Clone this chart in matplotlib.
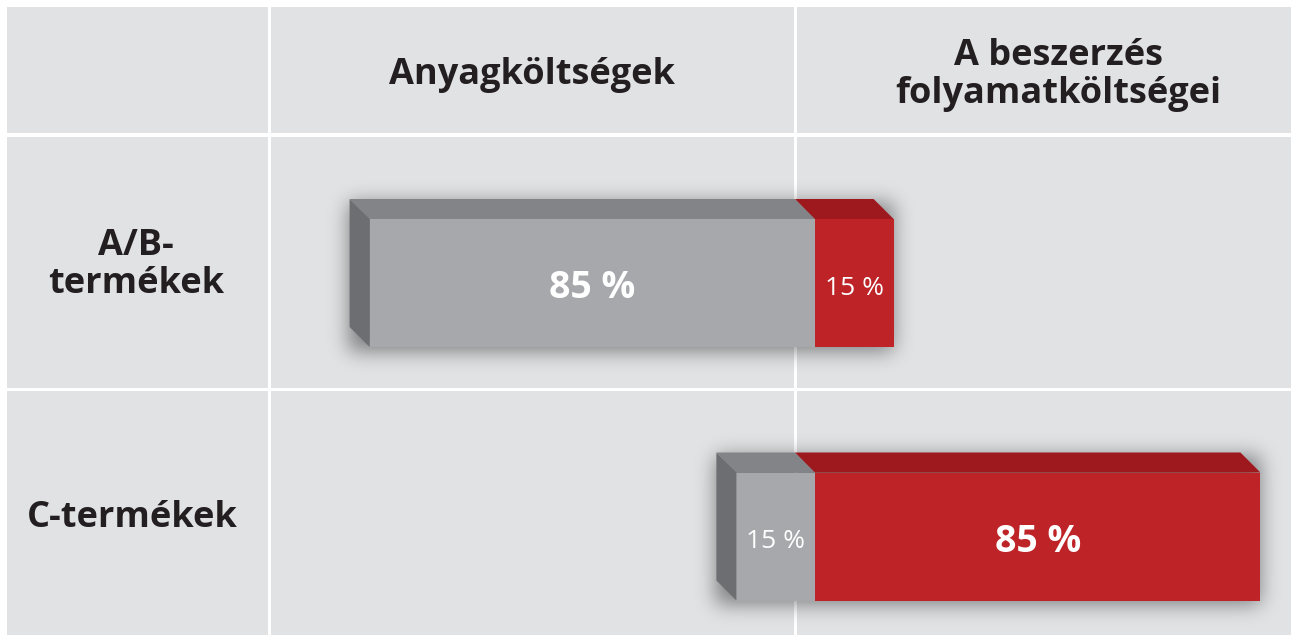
import numpy as np
import matplotlib.pyplot as plt
from matplotlib.patches import Rectangle, Polygon

plt.rcParams['font.family'] = ['Open Sans', 'DejaVu Sans']

# data
columns = ["Anyagköltségek", "A beszerzés\nfolyamatköltségei"]
products = ["A/B-\ntermékek", "C-termékek"]
material = [85, 15]   # anyagköltség, %
process = [15, 85]    # beszerzési folyamatköltség, %

W, H = 1291, 635
fig = plt.figure(figsize=(W / 100, H / 100), dpi=100, facecolor='white')

# table background (pixel coords)
bg = fig.add_axes([0, 0, 1, 1])
bg.set_xlim(0, W)
bg.set_ylim(H, 0)
bg.axis('off')
col_edges = [(7, 268), (271, 794), (797, W)]
row_edges = [(7, 133), (137, 388), (391, H)]
for x0, x1 in col_edges:
    for y0, y1 in row_edges:
        bg.add_patch(Rectangle((x0, y0), x1 - x0, y1 - y0, color='#e1e2e4', lw=0))

txt = '#231f20'
bg.text(532, 75, columns[0], ha='center', va='center', fontsize=26,
        fontweight='bold', color=txt)
bg.text(1058, 75, columns[1], ha='center', va='center', fontsize=26,
        fontweight='bold', color=txt, linespacing=1.1)
bg.text(136, 265, products[0], ha='center', va='center', fontsize=26,
        fontweight='bold', color=txt, linespacing=1.1)
bg.text(132, 518, products[1], ha='center', va='center', fontsize=26,
        fontweight='bold', color=txt)

# bars axes: x in percent, 0 = split between the two cost types
ax = fig.add_axes([0, 0, 1, 1], zorder=2)
ax.patch.set_alpha(0)
ax.axis('off')
ppx = 5.24        # pixels per percent
split = 815
row_px = [283, 536.5]
rs = row_px[1] - row_px[0]
ax.set_xlim(-split / ppx, (W - split) / ppx)
ax.set_ylim((H - row_px[0]) / rs, -row_px[0] / rs)

h = 128 / rs
dx = 20 / ppx
dy = 20 / rs

gray_front, gray_top, gray_side = '#a7a8ab', '#838488', '#6d6e72'
red_front, red_top = '#be2328', '#9e191e'

# soft shadow
fig.canvas.draw()
mask = np.zeros((H, W))
for i in range(len(products)):
    yt, yb = i - h / 2, i + h / 2
    (px0, py0) = ax.transData.transform((-material[i] - dx, yt - dy))
    (px1, py1) = ax.transData.transform((process[i], yb))
    c0, c1 = int(px0), int(px1)
    r0, r1 = int(H - py0), int(H - py1)
    mask[r0:r1, c0:c1] = 1
sig = 10
k = np.arange(-3 * sig, 3 * sig + 1)
kern = np.exp(-k ** 2 / (2 * sig ** 2))
kern /= kern.sum()
blur = np.apply_along_axis(lambda r: np.convolve(r, kern, mode='same'), 1, mask)
blur = np.apply_along_axis(lambda c: np.convolve(c, kern, mode='same'), 0, blur)
blur = np.roll(blur, 4, axis=0)
rgba = np.zeros((H, W, 4))
rgba[..., 3] = blur * 0.45
bg.imshow(rgba, extent=(0, W, H, 0), zorder=3, interpolation='bilinear')

for i in range(len(products)):
    m, p = material[i], process[i]
    yt, yb = i - h / 2, i + h / 2
    # front faces
    ax.add_patch(Rectangle((-m, yt), m, h, color=gray_front, lw=0))
    ax.add_patch(Rectangle((0, yt), p, h, color=red_front, lw=0))
    # top faces
    ax.add_patch(Polygon([(-m, yt), (0, yt), (-dx, yt - dy), (-m - dx, yt - dy)],
                         closed=True, color=gray_top, lw=0))
    ax.add_patch(Polygon([(0, yt), (p, yt), (p - dx, yt - dy), (-dx, yt - dy)],
                         closed=True, color=red_top, lw=0))
    # left side
    ax.add_patch(Polygon([(-m, yt), (-m - dx, yt - dy), (-m - dx, yb - dy), (-m, yb)],
                         closed=True, color=gray_side, lw=0))
    # labels
    for x0, v in ((-m, m), (0, p)):
        big = v > 50
        ax.text(x0 + v / 2, i + 0.02, f"{v} %", ha='center', va='center', color='white',
                fontsize=27 if big else 19, fontweight='bold' if big else 'normal')

fig.savefig('out.png', dpi=100, facecolor='white')
